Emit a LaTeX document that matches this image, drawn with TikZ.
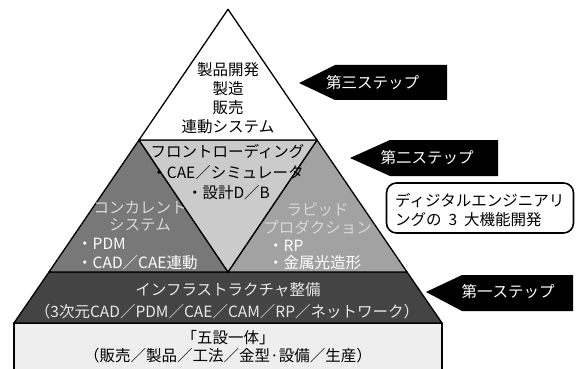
\documentclass[tikz,border=0pt]{standalone}
\usepackage{fontspec}
\setmainfont{Noto Sans CJK JP}
\definecolor{cTop}{HTML}{FFFFFF}
\definecolor{cFront}{HTML}{CBCBCB}
\definecolor{cLeft}{HTML}{787878}
\definecolor{cRight}{HTML}{A2A2A2}
\definecolor{cInfra}{HTML}{444444}
\definecolor{cBase}{HTML}{EEEEEE}
\definecolor{cPale}{HTML}{D8D8D8}
\definecolor{cInfraTxt}{HTML}{E8E8E8}
\tikzset{
  edge/.style={draw=black, line width=1.3pt, line join=round},
  lbl/.style={inner sep=0pt, font=\fontsize{15.5}{19}\selectfont},
  steparrow/.style={fill=black},
  steplbl/.style={lbl, text=white},
  notebox/.style={draw=black, line width=1.6pt, rounded corners=10pt, fill=white}
}
\begin{document}
\begin{tikzpicture}[x=1pt,y=-1pt]
\useasboundingbox (0,0) rectangle (576,369);
% key points
\coordinate (A) at (228,9.3);
\coordinate (TL) at (139,140);
\coordinate (TR) at (317,140);
\coordinate (ML) at (49,272);
\coordinate (MC) at (228,272);
\coordinate (MR) at (407,272);
\coordinate (BL) at (14,323);
\coordinate (BR) at (442,323);
\coordinate (RL) at (14,370.5);
\coordinate (RR) at (442,370.5);
% base rectangle
\filldraw[edge, fill=cBase] (BL) -- (BR) -- (RR) -- (RL) -- cycle;
% infrastructure
\filldraw[edge, fill=cInfra] (ML) -- (MR) -- (BR) -- (BL) -- cycle;
% middle
\filldraw[edge, fill=cLeft] (TL) -- (MC) -- (ML) -- cycle;
\filldraw[edge, fill=cRight] (TR) -- (MR) -- (MC) -- cycle;
\filldraw[edge, fill=cFront] (TL) -- (TR) -- (MC) -- cycle;
% top
\filldraw[edge, fill=cTop] (A) -- (TR) -- (TL) -- cycle;
% top text
\node[lbl] (t1) at (228,70) {製品開発};
\node[lbl] (t2) at (228,89) {製造};
\node[lbl] (t3) at (228,108) {販売};
\node[lbl] (t4) at (228,127) {連動システム};
% front loading
\node[lbl] (f1) at (227.5,152) {フロントローディング};
\node[lbl] (f2) at (227.5,173) {・CAE／シミュレータ};
\node[lbl] (f3) at (228.5,193) {・設計D／B};
% left
\node[lbl, text=cPale] (l1) at (140,208) {コンカレント};
\node[lbl, text=cPale] (l2) at (140,225) {システム};
\node[lbl, text=white, anchor=west] (l3) at (77,244) {・PDM};
\node[lbl, text=white, anchor=west] (l4) at (77,263) {・CAD／CAE連動};
% right
\node[lbl, text=cPale] (r1) at (317.5,210) {ラピッド};
\node[lbl, text=cPale] (r2) at (317.5,227) {プロダクション};
\node[lbl, text=white, anchor=west] (r3) at (268,246) {・RP};
\node[lbl, text=white, anchor=west] (r4) at (268,263) {・金属光造形};
% infrastructure text
\node[lbl, text=cInfraTxt] (i1) at (228,290) {インフラストラクチャ整備};
\node[lbl, text=cInfraTxt] (i2) at (227,312) {（3次元CAD／PDM／CAE／CAM／RP／ネットワーク）};
% base text
\node[lbl] (b1) at (228,338) {「五設一体」};
\node[lbl] (b2) at (228,356) {（販売／製品／工法／金型·設備／生産）};
% step arrows
\fill[steparrow] (299,83) -- (335,65) -- (447,65) -- (447,100) -- (335,100) -- cycle;
\node[steplbl] (s3) at (372.5,83) {第三ステップ};
\fill[steparrow] (350,158) -- (390,140) -- (498,140) -- (498,176) -- (390,176) -- cycle;
\node[steplbl] (s2) at (427,158) {第二ステップ};
\fill[steparrow] (426,292) -- (462,275) -- (573,275) -- (573,311) -- (462,311) -- cycle;
\node[steplbl] (s1) at (508,292) {第一ステップ};
% note box
\node[notebox, minimum width=187pt, minimum height=50pt] (note) at (480,208) {};
\node[lbl, anchor=west] (n1) at (395,201) {ディジタルエンジニアリ};
\node[lbl, anchor=west] (n2) at (395,220) {ングの\hspace{0.45em}3\hspace{0.45em}大機能開発};
\end{tikzpicture}
\end{document}
